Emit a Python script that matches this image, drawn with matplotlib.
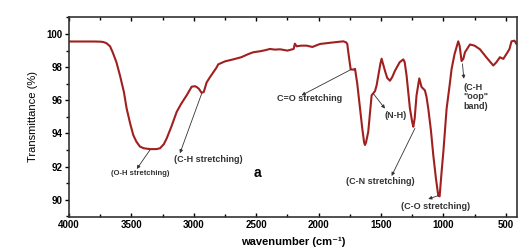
import numpy as np
import matplotlib.pyplot as plt
from matplotlib.ticker import MultipleLocator

plt.rcParams['font.family'] = ['Liberation Sans', 'DejaVu Sans']

# 光谱数据
wavenumber = [4000, 3800, 3750, 3725, 3700, 3671, 3650, 3620, 3591, 3560, 3538, 3510, 3485,
              3460, 3431, 3400, 3350, 3300, 3271, 3240, 3217, 3180, 3137, 3100, 3057, 3030,
              3017, 2990, 2977, 2960, 2937, 2920, 2897, 2870, 2844, 2820, 2804, 2750, 2684,
              2620, 2560, 2523, 2470, 2430, 2390, 2350, 2309, 2250, 2200, 2190, 2176, 2140,
              2096, 2050, 1989, 1900, 1802, 1780, 1770, 1760, 1743, 1720, 1708, 1690, 1668,
              1650, 1635, 1628, 1620, 1610, 1602, 1590, 1575, 1548, 1535, 1522, 1505, 1495,
              1480, 1468, 1450, 1428, 1410, 1388, 1350, 1321, 1310, 1295, 1268, 1250, 1241,
              1230, 1215, 1193, 1185, 1175, 1148, 1135, 1121, 1100, 1081, 1060, 1041, 1030,
              1014, 1000, 974, 950, 934, 910, 881, 870, 854, 840, 827, 787, 750, 707, 654,
              600, 575, 547, 520, 494, 470, 454, 430, 414]
transmittance = [99.55, 99.55, 99.54, 99.52, 99.45, 99.26, 98.9, 98.3, 97.48, 96.5, 95.5, 94.6, 93.9,
                 93.5, 93.2, 93.1, 93.05, 93.05, 93.1, 93.35, 93.7, 94.4, 95.3, 95.8, 96.3, 96.65,
                 96.82, 96.85, 96.8, 96.7, 96.45, 96.5, 97.08, 97.4, 97.68, 97.95, 98.17, 98.35, 98.47,
                 98.6, 98.8, 98.9, 98.96, 99.02, 99.1, 99.06, 99.08, 99.0, 99.1, 99.42, 99.26, 99.3,
                 99.3, 99.22, 99.4, 99.48, 99.56, 99.5, 99.4, 98.8, 97.87, 97.85, 97.9, 97.0, 95.5,
                 94.3, 93.45, 93.3, 93.45, 93.8, 94.1, 95.1, 96.3, 96.55, 96.9, 97.48, 98.2, 98.51,
                 98.1, 97.78, 97.35, 97.18, 97.4, 97.78, 98.3, 98.47, 98.3, 97.5, 95.5, 94.7, 94.4,
                 94.9, 96.3, 97.32, 97.1, 96.8, 96.6, 96.2, 95.5, 94.2, 92.7, 91.3, 90.24, 90.2,
                 91.7, 92.9, 95.5, 96.9, 97.9, 98.8, 99.56, 99.3, 98.37, 98.5, 98.9, 99.37, 99.3, 99.08, 98.58,
                 98.1, 98.3, 98.6, 98.5, 98.8, 99.1, 99.56, 99.6, 99.4]

# 标注：文字、文字位置、箭头起点（曲线上）、箭头终点
labels = ['(O-H stretching)', '(C-H stretching)', 'C=O stretching', '(N-H)',
          '(C-N stretching)', '(C-O stretching)', '(C-H\n"oop"\nband)']
label_pos = [(3431, 91.6), (2886, 92.42), (2069, 96.1), (1381, 95.1),
             (1508, 91.09), (1061, 89.6), (836, 96.2)]
arrow_from = [(3351, 93.0), (2937, 96.4), (1737, 97.87), (1561, 96.4),
              (1228, 94.3), (1041, 90.24), (847, 98.2)]
arrow_to = [(3457, 91.85), (3111, 92.8), (2136, 96.3), (1468, 95.5),
            (1415, 91.43), (1121, 90.04), (836, 97.3)]
label_size = [5.5, 6.5, 6.5, 6.5, 6.5, 6.5, 6.5]

fig = plt.figure(figsize=(5.3, 2.47), dpi=100)
ax = fig.add_axes([69/530, 30/247, 448/530, 200/247])

# 绘制光谱曲线
ax.plot(wavenumber, transmittance, color='#a02020', lw=1.5, solid_joinstyle='round')

# 添加标注
for text, pos, p0, p1, fs in zip(labels, label_pos, arrow_from, arrow_to, label_size):
    ha = 'left' if text.startswith('(C-H\n') else 'center'
    ax.text(pos[0], pos[1], text, fontsize=fs, fontweight='bold', color='#333333',
            ha=ha, va='center', linespacing=1.1)
    ax.annotate('', xy=p1, xytext=p0,
                arrowprops=dict(arrowstyle='-|>', color='#333333', lw=0.6,
                                mutation_scale=5, shrinkA=0, shrinkB=0))

ax.text(2486, 91.6, 'a', fontsize=10, fontweight='bold', ha='center', va='center')

# 坐标轴设置
ax.set_xlim(4000, 410)
ax.set_ylim(88.95, 101.03)
ax.xaxis.set_major_locator(MultipleLocator(500))
ax.xaxis.set_minor_locator(MultipleLocator(250))
ax.yaxis.set_major_locator(MultipleLocator(2))
ax.yaxis.set_minor_locator(MultipleLocator(1))
ax.tick_params(axis='both', which='both', direction='out', labelsize=7, width=1, pad=1.5)
ax.tick_params(axis='x', which='both', direction='in', pad=2)
ax.tick_params(which='major', length=3)
ax.tick_params(which='minor', length=2)
ax.tick_params(top=True, right=False, which='both')
for lbl in ax.get_xticklabels() + ax.get_yticklabels():
    lbl.set_fontweight('bold')
for s in ax.spines.values():
    s.set_linewidth(1.2)
    s.set_color('#333333')

ax.set_ylabel('Transmittance (%)', fontsize=8, labelpad=6)
# x轴标签放在画布底部，避免被裁掉
fig.text(293/530, 0, 'wavenumber (cm⁻¹)', fontsize=8, fontweight='bold',
         ha='center', va='bottom')

fig.savefig('out.png', dpi=100, facecolor='white')
